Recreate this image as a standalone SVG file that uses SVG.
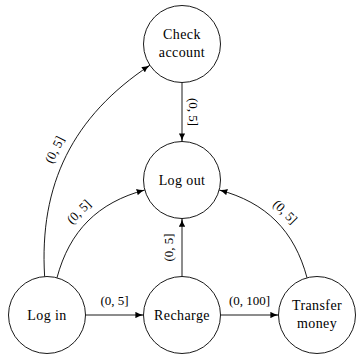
<svg xmlns="http://www.w3.org/2000/svg" width="357" height="358" viewBox="0 0 357 358">
<style>
.node circle{fill:#fff;stroke:#000;stroke-width:0.9}
.node text{font-family:"Liberation Serif","Times New Roman",serif;font-size:14px;letter-spacing:0.4px;text-anchor:middle;fill:#000}
.edge{fill:none;stroke:#000;stroke-width:0.9;marker-end:url(#arr)}
.lbl{font-family:"Liberation Serif","Times New Roman",serif;font-size:13px;text-anchor:middle;fill:#000}
</style>
<defs>
<marker id="arr" viewBox="0 0 10 8" refX="10" refY="4" markerWidth="8.5" markerHeight="6.5" markerUnits="userSpaceOnUse" orient="auto">
<path d="M0,0 Q4,3 10,4 Q4,5 0,8 Z" fill="#000"/>
</marker>
</defs>
<rect width="357" height="358" fill="#fff"/>
<g id="connectors">
<path class="edge" d="M44.64,276.57 C38.97,184.35 72.89,116.29 149.91,65.26"/>
<path class="edge" d="M56.96,277.81 C69.55,230.83 97.83,202.55 144.81,189.96"/>
<path class="edge" d="M307.04,277.81 C294.45,230.83 266.17,202.55 219.19,189.96"/>
<path class="edge" d="M182,82.5 L182,141.5"/>
<path class="edge" d="M182,276.5 L182,218.5"/>
<path class="edge" d="M85.5,315 L143.5,315"/>
<path class="edge" d="M220.5,315 L278.5,315"/>
<g transform="translate(55.5,150.1) rotate(-63.52)"><text class="lbl" x="0" y="3.3">(0, 5]</text></g>
<g transform="translate(79.5,212.5) rotate(-45)"><text class="lbl" x="0" y="3.3">(0, 5]</text></g>
<g transform="translate(284.5,212.5) rotate(45)"><text class="lbl" x="0" y="3.3">(0, 5]</text></g>
<g transform="translate(192,112) rotate(90)"><text class="lbl" x="0" y="3.3">(0, 5]</text></g>
<g transform="translate(169.5,247.5) rotate(-90)"><text class="lbl" x="0" y="3.3">(0, 5]</text></g>
<text class="lbl" x="114.5" y="305.3">(0, 5]</text>
<text class="lbl" x="249.5" y="305.3">(0, 100]</text>
</g>
<g id="check-account" class="node"><circle cx="182" cy="44" r="38.5"/><text x="182" y="39">Check</text><text x="182" y="57">account</text></g>
<g id="log-out" class="node"><circle cx="182" cy="180" r="38.5"/><text x="182" y="184.5">Log out</text></g>
<g id="log-in" class="node"><circle cx="47" cy="315" r="38.5"/><text x="47" y="319.5">Log in</text></g>
<g id="recharge" class="node"><circle cx="182" cy="315" r="38.5"/><text x="182" y="319.5">Recharge</text></g>
<g id="transfer-money" class="node"><circle cx="317" cy="315" r="38.5"/><text x="317" y="310">Transfer</text><text x="317" y="328">money</text></g>
</svg>
